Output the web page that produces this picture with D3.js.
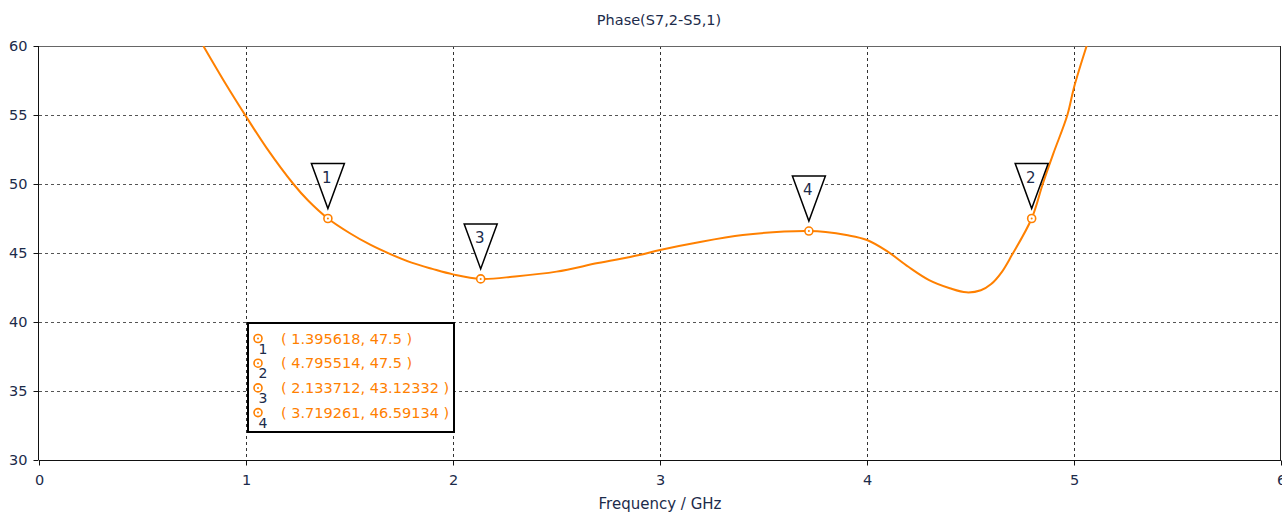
<!DOCTYPE html>
<html>
<head>
<meta charset="utf-8">
<script src="https://cdn.jsdelivr.net/npm/d3@7"></script>
<style>
  html, body { margin: 0; padding: 0; background: #ffffff; }
  svg { display: block; }
  text { font-family: "DejaVu Sans", Verdana, sans-serif; }
</style>
</head>
<body>
<svg id="chart" width="1282" height="512"></svg>
<script>
// Phase(S7,2-S5,1) versus frequency
const chartTitle = "Phase(S7,2-S5,1)";
const xAxisTitle = "Frequency / GHz";
const xTicks = [0, 1, 2, 3, 4, 5, 6];
const yTicks = [30, 35, 40, 45, 50, 55, 60];

// Trace samples (GHz, degrees)
const freq = [0.794, 0.9, 1.0, 1.1, 1.229, 1.3, 1.395618, 1.5, 1.6, 1.7, 1.8, 1.9, 2.0,
              2.133712, 2.3, 2.5, 2.7, 2.9, 3.0, 3.2, 3.4, 3.6, 3.719261, 3.8, 3.9, 4.0,
              4.1, 4.2, 4.3, 4.4, 4.48, 4.55, 4.6, 4.65, 4.7, 4.795514, 4.849, 4.9, 4.968, 5.0, 5.061];
const phase = [60, 57.3, 54.9, 52.6, 50.0, 48.8, 47.5, 46.45, 45.6, 44.9, 44.3, 43.85, 43.45,
               43.12332, 43.3, 43.65, 44.27, 44.85, 45.22, 45.82, 46.3, 46.55, 46.59134, 46.52, 46.3, 45.94,
               45.1, 44.0, 43.04, 42.45, 42.15, 42.3, 42.75, 43.6, 44.85, 47.5, 50.0, 52.2, 55.0, 57.0, 60];

// Markers (ids and their readouts)
const markerIds = ["1", "2", "3", "4"];
const markerX = ["1.395618", "4.795514", "2.133712", "3.719261"];
const markerY = ["47.5", "47.5", "43.12332", "46.59134"];

const plotL = 39, plotR = 1281, plotT = 46, plotB = 460;
const orange = "#ff8000";
const textColor = "#1c2b4a";

const svg = d3.select("#chart");
const x = d3.scaleLinear().domain([0, 6]).range([plotL, plotR]);
const y = d3.scaleLinear().domain([30, 60]).range([plotB, plotT]);

// Grid
const grid = svg.append("g");
grid.selectAll("line.vg").data(xTicks.filter(t => t > 0 && t < 6)).join("line")
  .attr("x1", d => Math.round(x(d)) + 0.5).attr("x2", d => Math.round(x(d)) + 0.5)
  .attr("y1", plotT).attr("y2", plotB)
  .attr("stroke", "#333").attr("stroke-width", 1).attr("stroke-dasharray", "3,3");
grid.selectAll("line.hg").data(yTicks.filter(t => t > 30 && t < 60)).join("line")
  .attr("x1", plotL).attr("x2", plotR)
  .attr("y1", d => Math.round(y(d)) + 0.5).attr("y2", d => Math.round(y(d)) + 0.5)
  .attr("stroke", "#555").attr("stroke-width", 1).attr("stroke-dasharray", "3,3");

// Frame
svg.append("line").attr("x1", plotL).attr("x2", plotR).attr("y1", plotT + 0.5).attr("y2", plotT + 0.5)
  .attr("stroke", "#666").attr("stroke-width", 1);
svg.append("line").attr("x1", plotR - 0.5).attr("x2", plotR - 0.5).attr("y1", plotT).attr("y2", plotB)
  .attr("stroke", "#222").attr("stroke-width", 1);

// Axes
const xAxis = d3.axisBottom(x).tickValues(xTicks).tickFormat(d3.format("d")).tickSize(5).tickPadding(9);
const yAxis = d3.axisLeft(y).tickValues(yTicks).tickFormat(d3.format("d")).tickSize(5).tickPadding(6);
const gx = svg.append("g").attr("transform", `translate(0,${plotB + 0.5})`).call(xAxis);
const gy = svg.append("g").attr("transform", `translate(${plotL - 0.5},0)`).call(yAxis);
[gx, gy].forEach(g => {
  g.select(".domain").attr("stroke", "#111");
  g.selectAll(".tick line").attr("stroke", "#111");
  g.selectAll(".tick text").attr("fill", textColor).style("font-size", "14.5px")
    .style("font-family", "DejaVu Sans, sans-serif");
});
gx.select(".domain").attr("d", `M${plotL},0H${plotR}`);
gy.select(".domain").attr("d", `M0,${plotB}V${plotT}`);

// Titles
svg.append("text").attr("x", 659).attr("y", 25).attr("text-anchor", "middle")
  .attr("fill", textColor).style("font-size", "14.5px").text(chartTitle);
svg.append("text").attr("x", 660).attr("y", 509).attr("text-anchor", "middle")
  .attr("fill", textColor).style("font-size", "15px").text(xAxisTitle);

// Trace
svg.append("clipPath").attr("id", "plotclip").append("rect")
  .attr("x", plotL).attr("y", plotT).attr("width", plotR - plotL).attr("height", plotB - plotT);
const pts = freq.map((f, i) => [f, phase[i]]);
const line = d3.line().x(d => x(d[0])).y(d => y(d[1])).curve(d3.curveCatmullRom.alpha(0.5));
svg.append("path").attr("clip-path", "url(#plotclip)")
  .attr("d", line(pts)).attr("fill", "none").attr("stroke", orange).attr("stroke-width", 2);

// Marker flags and points
const markers = markerIds.map((id, i) => ({ id, fx: +markerX[i], fy: +markerY[i], sx: markerX[i], sy: markerY[i] }));
const mg = svg.append("g");
markers.forEach(m => {
  const cx = x(m.fx), cy = y(m.fy);
  const apexY = cy - 10, flagT = apexY - 45;
  mg.append("path")
    .attr("d", `M${cx - 16.5},${flagT}L${cx + 16.5},${flagT}L${cx},${apexY}Z`)
    .attr("fill", "#fff").attr("stroke", "#000").attr("stroke-width", 1.5).attr("stroke-linejoin", "miter");
  mg.append("text").attr("x", cx - 1).attr("y", flagT + 19).attr("text-anchor", "middle")
    .attr("fill", textColor).style("font-size", "15px").text(m.id);
  mg.append("circle").attr("cx", cx).attr("cy", cy).attr("r", 4)
    .attr("fill", "#fff").attr("stroke", orange).attr("stroke-width", 1.6);
  mg.append("circle").attr("cx", cx).attr("cy", cy).attr("r", 1).attr("fill", orange);
});

// Marker readout box
const box = svg.append("g");
box.append("rect").attr("x", 248).attr("y", 323).attr("width", 206).attr("height", 109)
  .attr("fill", "#fff").attr("stroke", "#000").attr("stroke-width", 2);
markers.forEach((m, i) => {
  const ry = 338.5 + i * 24.7;
  box.append("circle").attr("cx", 258).attr("cy", ry).attr("r", 4)
    .attr("fill", "#fff").attr("stroke", orange).attr("stroke-width", 1.6);
  box.append("circle").attr("cx", 258).attr("cy", ry).attr("r", 1).attr("fill", orange);
  box.append("text").attr("x", 263).attr("y", ry + 15).attr("text-anchor", "middle")
    .attr("fill", textColor).style("font-size", "14px").text(m.id);
  box.append("text").attr("x", 281).attr("y", ry + 5)
    .attr("fill", orange).style("font-size", "14.5px").text(`( ${m.sx}, ${m.sy} )`);
});
</script>
</body>
</html>
